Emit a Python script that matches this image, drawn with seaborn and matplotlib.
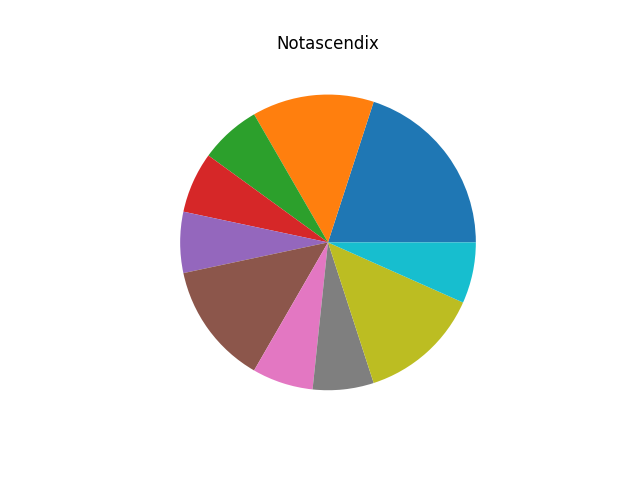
import matplotlib
matplotlib.use("Agg")
import matplotlib.pyplot as plt
import seaborn as sb

# slice counts (counter-clockwise from 3 o'clock)
categories = ["A", "B", "C", "D", "E", "F", "G", "H", "I", "J"]
counts = [3, 2, 1, 1, 1, 2, 1, 1, 2, 1]
title = "Notascendix"

colors = sb.color_palette("tab10", len(counts))

fig, ax = plt.subplots(figsize=(6.4, 4.8), dpi=100)
ax.pie(counts, colors=colors)
ax.set_title(title)
plt.savefig("out.png", dpi=100)
plt.close()
